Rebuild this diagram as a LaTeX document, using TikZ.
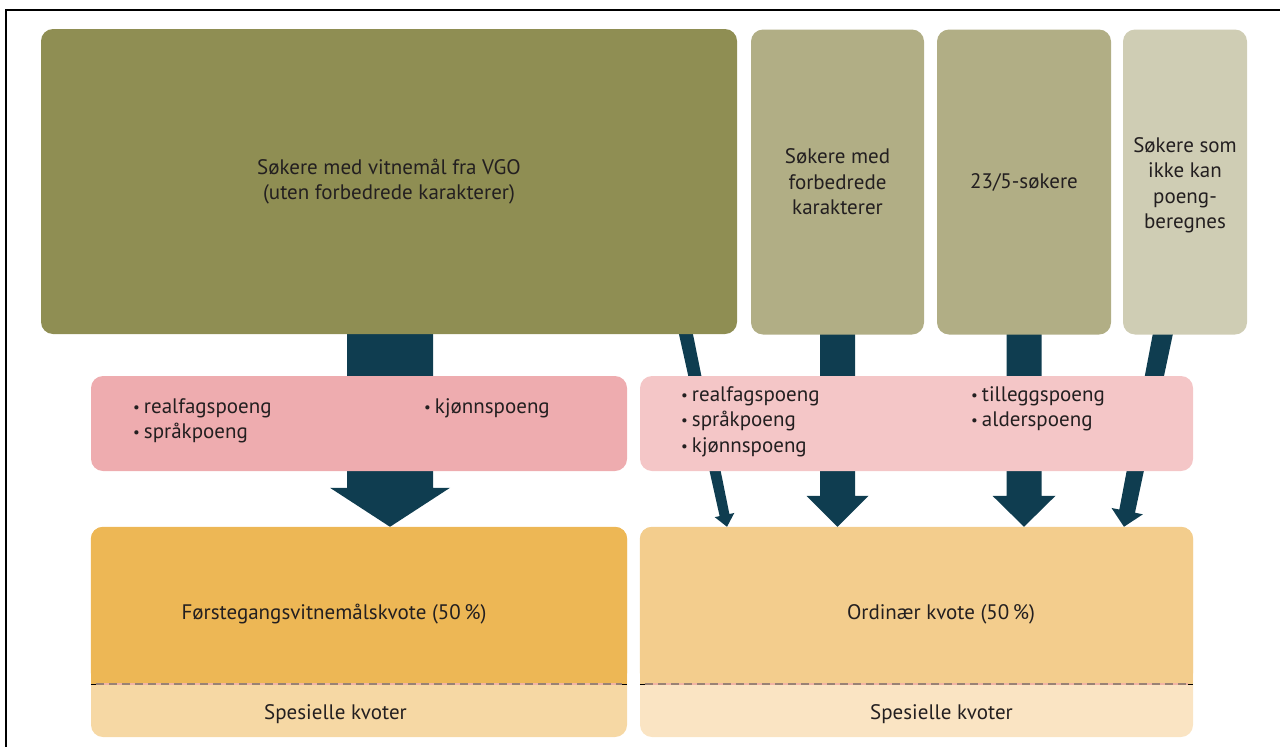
\documentclass[tikz,border=0pt]{standalone}
\usepackage{fontspec}
\setmainfont{PT Sans}
\usetikzlibrary{calc}
\definecolor{olive}{HTML}{8F8E53}
\definecolor{olivelight}{HTML}{B1AE85}
\definecolor{olivepale}{HTML}{CFCDB4}
\definecolor{pinkA}{HTML}{EEACAF}
\definecolor{pinkB}{HTML}{F4C6C7}
\definecolor{orangeA}{HTML}{EDB755}
\definecolor{orangeAl}{HTML}{F6D8A4}
\definecolor{orangeB}{HTML}{F3CD8D}
\definecolor{orangeBl}{HTML}{FAE4C3}
\definecolor{arrowc}{HTML}{0F3D50}
\definecolor{textc}{HTML}{231F20}
\definecolor{dashc}{HTML}{9A8274}
\definecolor{dashpink}{HTML}{F2B4A4}
\pgfdeclarelayer{bg}
\pgfsetlayers{bg,main}
% arrow polygon: start, tip, half shaft width at start, half shaft width at head, half head width, head length
\newcommand\arrpoly[6]{%
  \coordinate (arrH) at ($(#2)!#6!(#1)$);
  \fill[arrowc] ($(#1)!#3!90:(#2)$) -- ($(arrH)!#4!90:(#2)$)
    -- ($(arrH)!#5!90:(#2)$) -- (#2)
    -- ($(arrH)!#5!-90:(#2)$) -- ($(arrH)!#4!-90:(#2)$)
    -- ($(#1)!#3!-90:(#2)$) -- cycle;}
\newcommand\bul{{\fontsize{15}{15}\selectfont\raisebox{1pt}{•}}\hspace{4pt}}
\begin{document}
\begin{tikzpicture}[x=1pt,y=-1pt,
  box/.style={rounded corners=12pt, inner sep=0pt, draw=none, align=center,
    text=textc, font=\fontsize{21}{25.5}\selectfont},
  lbl/.style={inner sep=0pt, text=textc, align=left,
    font=\fontsize{21}{25.5}\selectfont},
  frameline/.style={line width=2.5pt, black, line join=miter},
]
\useasboundingbox (0,0) rectangle (1280,747);
\draw[frameline] (6,748) -- (6,10) -- (1281,10);

% top boxes
\node[box, fill=olive, minimum width=696pt, minimum height=305pt] (vgo) at (389,181.5)
  {Søkere med vitnemål fra VGO\\(uten forbedrede karakterer)};
\node[box, fill=olivelight, minimum width=173pt, minimum height=305pt] (forb) at (837.5,182)
  {Søkere med\\forbedrede\\karakterer};
\node[box, fill=olivelight, minimum width=174pt, minimum height=305pt] (s235) at (1024,182)
  {23/5-søkere};
\node[box, fill=olivepale, minimum width=124pt, minimum height=305pt] (ikke) at (1185,182) {};
\node[lbl, align=center] (ikkeT) at (1185,185)
  {Søkere som\\ikke kan\\poeng-\\beregnes};

% middle boxes
\node[box, fill=pinkA, minimum width=536pt, minimum height=95pt] (pL) at (359,423.5) {};
\node[box, fill=pinkB, minimum width=553pt, minimum height=95pt] (pR) at (916.5,423.5) {};
\node[lbl, anchor=west] (pL1) at (133,421) {\bul realfagspoeng\\\bul språkpoeng};
\node[lbl, anchor=west] (pL2) at (424,408) {\bul kjønnspoeng};
\node[lbl, anchor=west] (pR1) at (681,421.5) {\bul realfagspoeng\\\bul språkpoeng\\\bul kjønnspoeng};
\node[lbl, anchor=west] (pR2) at (971,409) {\bul tilleggspoeng\\\bul alderspoeng};

% bottom boxes
\node[box, fill=orangeAl, minimum width=536pt, minimum height=210pt] (kvL) at (359,632) {};
\fill[orangeA, rounded corners=12pt] (kvL.north west) rectangle ($(kvL.north east)+(0,157.5)$);
\fill[orangeA] ($(kvL.north west)+(0,130)$) rectangle ($(kvL.north east)+(0,157.5)$);
\node[box, fill=orangeBl, minimum width=553pt, minimum height=210pt] (kvR) at (916.5,632) {};
\fill[orangeB, rounded corners=12pt] (kvR.north west) rectangle ($(kvR.north east)+(0,157.5)$);
\fill[orangeB] ($(kvR.north west)+(0,130)$) rectangle ($(kvR.north east)+(0,157.5)$);

\foreach \b in {kvL,kvR}{
  \coordinate (\b d1) at ($(\b.north west)+(0,157.5)$);
  \coordinate (\b d2) at ($(\b.north east)+(0,157.5)$);
  \draw[line width=1pt, black] (\b d1) -- (\b d2);
  \draw[line width=2pt, dashpink] ($(\b d1)+(5,0)$) -- ($(\b d2)+(-5,0)$);
  \draw[line width=2pt, dashc, dash pattern=on 8pt off 5pt] ($(\b d1)+(5,0)$) -- ($(\b d2)+(-5,0)$);
}

\node[lbl] (fvk) at (334,614) {Førstegangsvitnemålskvote (50\,\%)};
\node[lbl] (spL) at (335.5,714) {Spesielle kvoter};
\node[lbl] (ord) at (941,614) {Ordinær kvote (50\,\%)};
\node[lbl] (spR) at (941.5,714) {Spesielle kvoter};

% arrows (behind boxes)
\begin{pgfonlayer}{bg}
\coordinate (a0s) at ([xshift=1pt,yshift=14pt]vgo.south);
\coordinate (a0t) at ([xshift=31pt]kvL.north);
\coordinate (a1s) at ([xshift=294pt,yshift=14pt]vgo.south);
\coordinate (a1t) at ([xshift=-189.5pt]kvR.north);
\coordinate (a2s) at ([yshift=14pt]forb.south);
\coordinate (a2t) at ([xshift=-79pt]kvR.north);
\coordinate (a3s) at ([yshift=14pt]s235.south);
\coordinate (a3t) at ([xshift=107.5pt]kvR.north);
\coordinate (a4s) at ([xshift=-19.5pt,yshift=14pt]ikke.south);
\coordinate (a4t) at ([xshift=207.5pt]kvR.north);
\arrpoly{a0s}{a0t}{43pt}{43pt}{60pt}{39pt}
\arrpoly{a1s}{a1t}{7pt}{5pt}{10pt}{12pt}
\arrpoly{a2s}{a2t}{17.5pt}{17.5pt}{31pt}{31pt}
\arrpoly{a3s}{a3t}{17.5pt}{17.5pt}{31.5pt}{31pt}
\arrpoly{a4s}{a4t}{10pt}{8pt}{16pt}{16pt}
\end{pgfonlayer}
\end{tikzpicture}
\end{document}
